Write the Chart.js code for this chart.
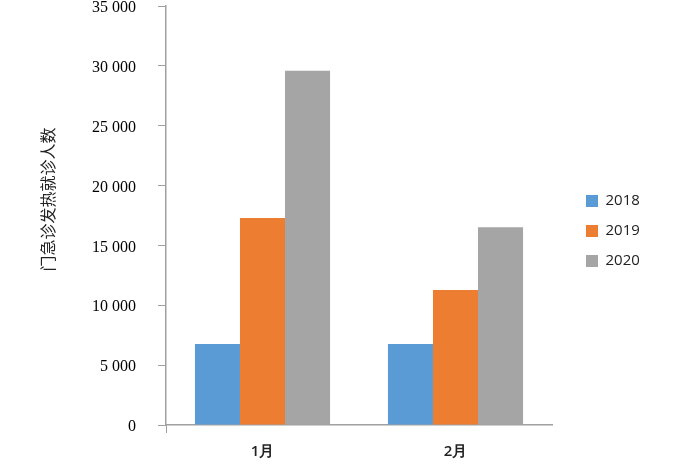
<!DOCTYPE html>
<html>
<head>
<meta charset="utf-8">
<script src="https://cdn.jsdelivr.net/npm/chart.js@4"></script>
<style>
  html, body { margin: 0; padding: 0; background: #fff; }
  #wrap { width: 694px; height: 474px; }
</style>
</head>
<body>
<div id="wrap"><canvas id="bar-chart"></canvas></div>
<script>
const months = ["1月", "2月"];
const years = ["2018", "2019", "2020"];
const visits2018 = [6770, 6770];
const visits2019 = [17300, 11280];
const visits2020 = [29600, 16520];
const colors = ["#5B9BD5", "#ED7D31", "#A5A5A5"];
const axisColor = "#A0A0A0";

function spaced(v) {
  return String(v).replace(/\B(?=(\d{3})+(?!\d))/g, " ");
}

// legend sits in a fixed-width column on the right, nudged like the original
const legendColumn = {
  id: 'legendColumn',
  beforeLayout(chart) {
    const lg = chart.legend;
    if (lg && !lg._wrapped) {
      const fit = lg.fit;
      lg.fit = function () { fit.call(this); this.width = 142; };
      lg._wrapped = true;
    }
  },
  afterLayout(chart) {
    const lg = chart.legend;
    lg.left += 19; lg.right += 19;
    lg.top -= 6; lg.bottom -= 6;
  }
};

new Chart(document.getElementById("bar-chart"), {
  type: 'bar',
  data: {
    labels: months,
    datasets: [
      { label: years[0], backgroundColor: colors[0], data: visits2018 },
      { label: years[1], backgroundColor: colors[1], data: visits2019 },
      { label: years[2], backgroundColor: colors[2], data: visits2020 }
    ]
  },
  plugins: [legendColumn],
  options: {
    responsive: true,
    maintainAspectRatio: false,
    animation: false,
    layout: { padding: 0 },
    datasets: { bar: { barPercentage: 1, categoryPercentage: 0.7 } },
    plugins: {
      tooltip: { enabled: false },
      legend: {
        position: 'right',
        align: 'center',
        labels: {
          boxWidth: 12,
          boxHeight: 12,
          padding: 15,
          color: '#222',
          font: { family: 'Open Sans', size: 15 }
        }
      }
    },
    scales: {
      x: {
        afterFit: s => { s.height = 49; },
        border: { color: axisColor, width: 1.5 },
        grid: {
          offset: true,
          drawOnChartArea: false,
          drawTicks: true,
          tickLength: 8,
          color: ctx => ctx.index === 0 ? axisColor : 'rgba(0,0,0,0)'
        },
        ticks: {
          padding: 10,
          color: '#222',
          font: { family: 'Open Sans', size: 15, weight: '600' }
        }
      },
      y: {
        min: 0,
        max: 35000,
        afterFit: s => { s.width = 166; s.paddingTop = 6; s.paddingBottom = 0; },
        border: { color: axisColor, width: 1.5 },
        grid: {
          drawOnChartArea: false,
          drawTicks: true,
          tickLength: 8,
          color: axisColor
        },
        ticks: {
          stepSize: 5000,
          padding: 22,
          labelOffset: 2,
          color: '#000',
          font: { family: 'Liberation Serif', size: 16 },
          callback: v => spaced(v)
        },
        title: {
          display: true,
          text: '\u3000\u3000门急诊发热就诊人数',
          color: '#222',
          font: { family: 'Noto Sans CJK SC', size: 16 },
          padding: { top: 38, bottom: 0 }
        }
      }
    }
  }
});
</script>
</body>
</html>
